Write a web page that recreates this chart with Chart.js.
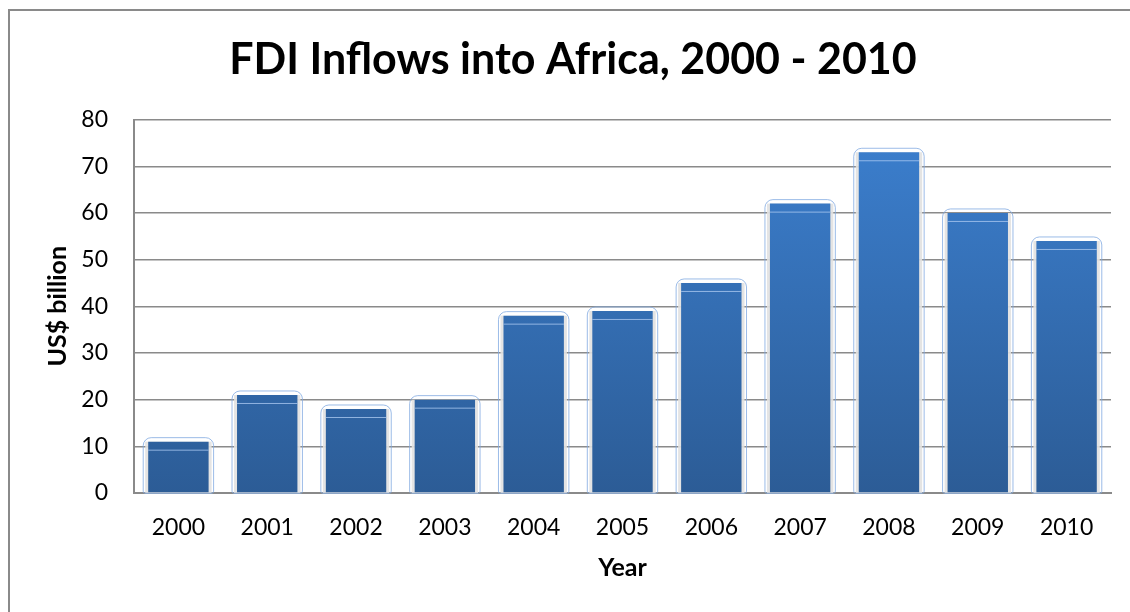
<!DOCTYPE html>
<html>
<head>
<meta charset="utf-8">
<script src="https://cdn.jsdelivr.net/npm/chart.js@4/dist/chart.umd.min.js"></script>
<style>
  html, body { margin: 0; padding: 0; background: #fff; overflow: hidden; }
  #wrap { position: relative; width: 1130px; height: 612px; }
  #frame {
    position: absolute; left: 8px; top: 9px; width: 1140px; height: 620px;
    border: 2px solid #8a8a8a; box-sizing: border-box;
  }
  canvas { position: absolute; left: 0; top: 0; }
</style>
</head>
<body>
<div id="wrap">
  <div id="frame"></div>
  <canvas id="fdiChart" width="1130" height="612"></canvas>
</div>
<script>
// Data
const years = ['2000', '2001', '2002', '2003', '2004', '2005', '2006', '2007', '2008', '2009', '2010'];
const fdiInflows = [11, 21, 18, 20, 38, 39, 45, 62, 73, 60, 54];
const yTicks = [0, 10, 20, 30, 40, 50, 60, 70, 80];

const FONT = 'Lato, Calibri, "Open Sans", sans-serif';

// Vertical blue gradient per bar
function barGradient(context) {
  const chart = context.chart;
  const area = chart.chartArea;
  if (!area) return '#3673bd';
  const g = chart.ctx.createLinearGradient(0, area.top, 0, area.bottom);
  g.addColorStop(0, '#3c80d0');
  g.addColorStop(1, '#2c5c96');
  return g;
}

// Soft glow outline + top highlight, like the Excel bevel style
const barGlow = {
  id: 'barGlow',
  beforeDatasetsDraw(chart) {
    const c = chart.ctx;
    chart.getDatasetMeta(0).data.forEach(bar => {
      const { x, y, base, width } = bar.getProps(['x', 'y', 'base', 'width'], true);
      const l = x - width / 2 - 5, t = y - 4, w = width + 10, h = base - y + 5, r = 8;
      c.save();
      c.fillStyle = 'rgba(225,225,225,0.9)';
      c.fillRect(l + 2, t + 4, w - 4, h - 4);
      c.strokeStyle = 'rgba(130,170,225,0.8)';
      c.lineWidth = 1;
      c.beginPath();
      c.roundRect(l, t, w, h, [r, r, 2, 2]);
      c.stroke();
      c.restore();
    });
  },
  afterDatasetsDraw(chart) {
    const c = chart.ctx;
    chart.getDatasetMeta(0).data.forEach(bar => {
      const { x, y, width } = bar.getProps(['x', 'y', 'width'], true);
      c.save();
      c.strokeStyle = 'rgba(170,200,240,0.8)';
      c.lineWidth = 1;
      c.beginPath();
      c.moveTo(x - width / 2, y + 8.5);
      c.lineTo(x + width / 2, y + 8.5);
      c.stroke();
      c.restore();
    });
  }
};

const ctx = document.getElementById('fdiChart').getContext('2d');
new Chart(ctx, {
  type: 'bar',
  data: {
    labels: years,
    datasets: [{
      label: 'FDI inflows',
      data: fdiInflows,
      backgroundColor: barGradient,
      borderWidth: 0,
      barPercentage: 0.68,
      categoryPercentage: 1
    }]
  },
  options: {
    responsive: false,
    animation: false,
    layout: { padding: { left: 35, right: 19, top: 0, bottom: 0 } },
    plugins: {
      legend: { display: false },
      tooltip: { enabled: false },
      title: {
        display: true,
        text: 'FDI Inflows into Africa, 2000 - 2010',
        color: '#000',
        font: { family: FONT, size: 43, weight: 'bold' },
        padding: { top: 34, bottom: 34 }
      }
    },
    scales: {
      x: {
        grid: { display: false, drawTicks: false },
        border: { display: true, color: '#8a8a8a', width: 2 },
        ticks: { color: '#000', padding: 21, font: { family: FONT, size: 23 } },
        title: {
          display: true,
          text: 'Year',
          color: '#000',
          font: { family: FONT, size: 25, weight: 'bold' },
          padding: { top: 0, bottom: 29 }
        },
        afterFit: (scale) => { scale.height = 119; }
      },
      y: {
        min: 0,
        max: 80,
        afterBuildTicks: (scale) => { scale.ticks = yTicks.map(v => ({ value: v })); },
        grid: { color: '#8a8a8a', lineWidth: 1.5, drawTicks: false },
        border: { display: true, color: '#8a8a8a', width: 2 },
        ticks: { color: '#000', padding: 26, font: { family: FONT, size: 23 } },
        title: {
          display: true,
          text: 'US$ billion',
          color: '#000',
          font: { family: FONT, size: 25, weight: 'bold' },
          padding: { top: 8, bottom: 0 }
        },
        afterFit: (scale) => { scale.width = 99; }
      }
    }
  },
  plugins: [barGlow]
});
</script>
</body>
</html>
